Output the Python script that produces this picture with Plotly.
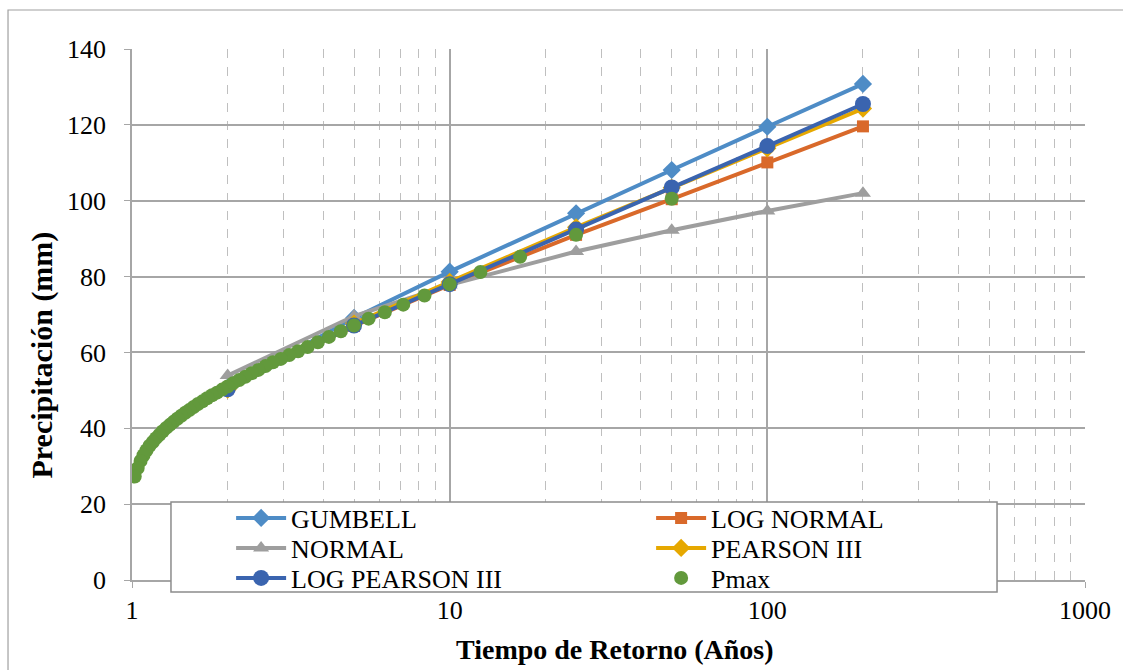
import plotly.graph_objects as go

# Return periods (years) for the fitted distributions
T_FIT = [2, 5, 10, 25, 50, 100, 200]

# Design precipitation (mm) per distribution
GUMBELL = [50.7, 69.1, 81.3, 96.7, 108.1, 119.5, 130.8]
LOG_NORMAL = [50.5, 67.0, 77.8, 91.0, 100.4, 110.1, 119.6]
NORMAL = [53.9, 69.6, 77.8, 86.6, 92.2, 97.3, 102.0]
PEARSON_III = [50.2, 67.6, 78.6, 93.0, 103.4, 113.8, 124.3]
LOG_PEARSON_III = [50.3, 67.1, 78.0, 92.4, 103.5, 114.4, 125.5]

# Observed annual maxima with their empirical return periods
T_PMAX = [50.0, 25.0, 16.667, 12.5, 10.0, 8.333, 7.143, 6.25, 5.556, 5.0,
          4.545, 4.167, 3.846, 3.571, 3.333, 3.125, 2.941, 2.778, 2.632, 2.5,
          2.381, 2.273, 2.174, 2.083, 2.0, 1.923, 1.852, 1.786, 1.724, 1.667,
          1.613, 1.563, 1.515, 1.471, 1.429, 1.389, 1.351, 1.316, 1.282, 1.25,
          1.220, 1.190, 1.163, 1.136, 1.111, 1.087, 1.064, 1.042, 1.020]
PMAX = [100.5, 91.0, 85.2, 81.2, 78.0, 75.0, 72.6, 70.6, 68.9, 67.1,
        65.6, 64.1, 62.7, 61.4, 60.3, 59.3, 58.3, 57.4, 56.4, 55.4,
        54.5, 53.6, 52.7, 51.9, 51.0, 50.2, 49.4, 48.7, 47.9, 47.1,
        46.4, 45.6, 44.8, 44.1, 43.3, 42.5, 41.7, 40.9, 40.1, 39.2,
        38.3, 37.4, 36.4, 35.4, 34.2, 32.9, 31.4, 29.5, 27.3]

X_TICKS = [1, 10, 100, 1000]
X_MINOR = [2, 3, 4, 5, 6, 7, 8, 9, 20, 30, 40, 50, 60, 70, 80, 90,
           200, 300, 400, 500, 600, 700, 800, 900]

FONT = "Liberation Serif, Times New Roman, serif"

fig = go.Figure()

# (name, values, colour, marker, marker size, legend row)
series = [
    ("GUMBELL", GUMBELL, "#4E8CC6", "diamond", 14, "legend"),
    ("LOG NORMAL", LOG_NORMAL, "#D9692A", "square", 12, "legend"),
    ("NORMAL", NORMAL, "#9E9E9E", "triangle-up", 14, "legend2"),
    ("PEARSON III", PEARSON_III, "#E6A800", "diamond", 14, "legend2"),
    ("LOG PEARSON III", LOG_PEARSON_III, "#3A64AF", "circle", 16, "legend3"),
]
for name, vals, color, symbol, size, leg in series:
    fig.add_trace(go.Scatter(
        x=T_FIT, y=vals, name=name, mode="lines+markers", legend=leg,
        line=dict(color=color, width=4),
        marker=dict(symbol=symbol, size=size, color=color),
    ))

fig.add_trace(go.Scatter(
    x=T_PMAX, y=PMAX, name="Pmax", mode="markers", legend="legend3",
    marker=dict(symbol="circle", size=14, color="#62993C"),
))

grid_major = "#A6A6A6"


def legend_row(y):
    return dict(
        orientation="h", x=0.104, y=y, xanchor="left", yanchor="middle",
        bgcolor="rgba(0,0,0,0)", borderwidth=0,
        font=dict(family=FONT, size=26, color="black"),
        entrywidth=355, entrywidthmode="pixels",
        itemwidth=50, tracegroupgap=0,
    )


fig.update_layout(
    width=1123, height=670,
    margin=dict(l=132, r=38, t=49, b=90),
    paper_bgcolor="white", plot_bgcolor="white",
    font=dict(family=FONT, color="black", size=26),
    showlegend=True,
    legend=legend_row(0.1168),
    legend2=legend_row(0.0603),
    legend3=legend_row(0.0038),
    xaxis=dict(
        type="log", range=[0, 3],
        tickvals=X_TICKS, ticktext=[str(v) for v in X_TICKS],
        showgrid=True, gridcolor=grid_major, gridwidth=1.5,
        showline=True, linecolor=grid_major, linewidth=1.5,
        ticks="outside", ticklen=6, tickcolor=grid_major,
        tickfont=dict(family=FONT, size=26),
        minor=dict(tickmode="array", tickvals=X_MINOR, showgrid=True,
                   griddash="dash", gridcolor="#BFBFBF", gridwidth=1,
                   ticks=""),
        zeroline=False, mirror=False,
    ),
    yaxis=dict(
        range=[0, 140], tickvals=list(range(0, 141, 20)),
        showgrid=True, gridcolor=grid_major, gridwidth=1.5,
        showline=True, linecolor=grid_major, linewidth=1.5,
        ticks="outside", ticklen=6, tickcolor=grid_major,
        tickfont=dict(family=FONT, size=26), ticklabelstandoff=13,
        zeroline=False,
    ),
    annotations=[
        dict(text="<b>Tiempo de Retorno (Años)</b>", xref="paper", yref="paper",
             x=0.5067, y=-0.131, xanchor="center", yanchor="middle",
             showarrow=False, font=dict(family=FONT, size=28)),
        dict(text="<b>Precipitación (mm)</b>", xref="paper", yref="paper",
             x=-0.0944, y=0.4228, xanchor="center", yanchor="middle",
             textangle=-90, showarrow=False, font=dict(family=FONT, size=30)),
    ],
    shapes=[
        # chart area frame
        dict(type="rect", xref="paper", yref="paper",
             x0=-0.1301, x1=1.08, y0=-0.25, y1=1.0734,
             line=dict(color="#A0A0A0", width=1.2), fillcolor="rgba(0,0,0,0)",
             layer="below"),
        # legend box
        dict(type="rect", xref="paper", yref="paper",
             x0=0.0409, x1=0.9077, y0=-0.0226, y1=0.1469,
             line=dict(color="#8C8C8C", width=1.5), fillcolor="white",
             layer="above"),
    ],
)

fig.write_html("out.html")
